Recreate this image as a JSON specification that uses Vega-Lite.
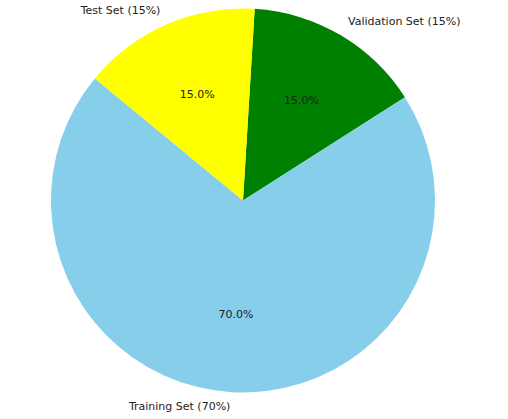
{
  "$schema": "https://vega.github.io/schema/vega-lite/v6.json",
  "width": 508,
  "height": 419,
  "autosize": {"type": "fit", "contains": "padding"},
  "padding": {"left": 0, "right": 22, "top": 0, "bottom": 15},
  "background": "white",
  "view": {"stroke": null},
  "data": {
    "values": [
      {"set": "Validation Set", "label": "Validation Set (15%)", "pct": 15, "pctLabel": "15.0%", "rank": 1},
      {"set": "Training Set", "label": "Training Set (70%)", "pct": 70, "pctLabel": "70.0%", "rank": 2},
      {"set": "Test Set", "label": "Test Set (15%)", "pct": 15, "pctLabel": "15.0%", "rank": 3}
    ]
  },
  "encoding": {
    "theta": {"field": "pct", "type": "quantitative", "stack": true, "scale": {"range": [0.061, 6.344]}},
    "order": {"field": "rank", "type": "quantitative"},
    "color": {
      "field": "set", "type": "nominal", "legend": null,
      "scale": {"domain": ["Validation Set", "Training Set", "Test Set"], "range": ["#008000", "#87CEEB", "#FFFF00"]}
    }
  },
  "layer": [
    {"mark": {"type": "arc", "outerRadius": 192}},
    {
      "mark": {"type": "text", "radius": 115, "font": "DejaVu Sans", "fontSize": 11},
      "encoding": {"text": {"field": "pctLabel"}, "color": {"value": "#222222"}}
    },
    {
      "mark": {"type": "text", "radius": 207, "align": {"expr": "datum.set == 'Validation Set' ? 'left' : 'right'"}, "font": "DejaVu Sans", "fontSize": 11},
      "encoding": {"text": {"field": "label"}, "color": {"value": "#222222"}}
    }
  ]
}
